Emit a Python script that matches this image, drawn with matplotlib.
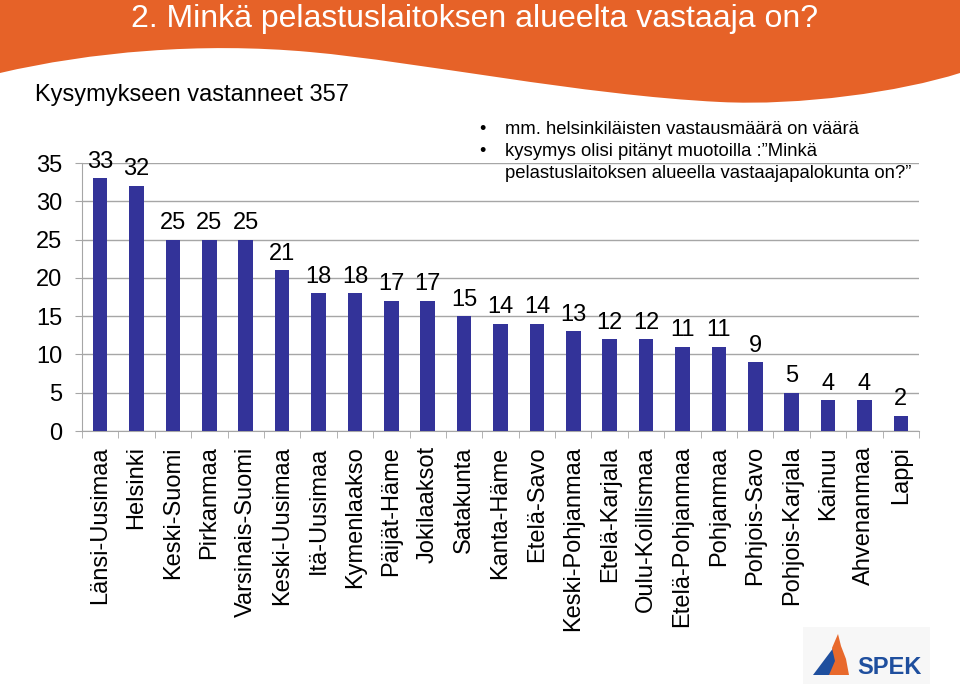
import numpy as np
import matplotlib
matplotlib.use('Agg')
import matplotlib.pyplot as plt
from matplotlib.patches import Polygon, PathPatch, Rectangle
from matplotlib.path import Path

# =============================================================================
# DATA
# =============================================================================

alueet = ['Länsi-Uusimaa', 'Helsinki', 'Keski-Suomi', 'Pirkanmaa', 'Varsinais-Suomi',
          'Keski-Uusimaa', 'Itä-Uusimaa', 'Kymenlaakso', 'Päijät-Häme', 'Jokilaaksot',
          'Satakunta', 'Kanta-Häme', 'Etelä-Savo', 'Keski-Pohjanmaa', 'Etelä-Karjala',
          'Oulu-Koillismaa', 'Etelä-Pohjanmaa', 'Pohjanmaa', 'Pohjois-Savo',
          'Pohjois-Karjala', 'Kainuu', 'Ahvenanmaa', 'Lappi']
vastaukset = [33, 32, 25, 25, 25, 21, 18, 18, 17, 17, 15, 14, 14, 13, 12, 12,
              11, 11, 9, 5, 4, 4, 2]
y_ticks = [0, 5, 10, 15, 20, 25, 30, 35]

otsikko = '2. Minkä pelastuslaitoksen alueelta vastaaja on?'
alaotsikko = 'Kysymykseen vastanneet 357'
huomiot = ['mm. helsinkiläisten vastausmäärä on väärä',
           'kysymys olisi pitänyt muotoilla :\u201dMinkä',
           'pelastuslaitoksen alueella vastaajapalokunta on?\u201d']

plt.rcParams['font.family'] = ['Liberation Sans', 'DejaVu Sans']

ORANSSI = '#E66228'
SININEN = '#333399'
HARMAA = '#A6A6A6'

# =============================================================================
# FIGURE + HEADER
# =============================================================================

fig = plt.figure(figsize=(9.6, 6.84), dpi=100)

bg = fig.add_axes([0, 0, 1, 1], zorder=0)
bg.set_xlim(0, 960)
bg.set_ylim(684, 0)
bg.axis('off')

# oranssi yläpalkki, aaltoileva alareuna
verts = [(0, 0), (0, 73),
         (90, 52), (200, 42), (310, 52),
         (420, 62), (580, 95), (720, 102),
         (800, 106), (900, 92), (960, 73),
         (960, 0), (0, 0)]
codes = [Path.MOVETO, Path.LINETO,
         Path.CURVE4, Path.CURVE4, Path.CURVE4,
         Path.CURVE4, Path.CURVE4, Path.CURVE4,
         Path.CURVE4, Path.CURVE4, Path.CURVE4,
         Path.LINETO, Path.CLOSEPOLY]
bg.add_patch(PathPatch(Path(verts, codes), facecolor=ORANSSI, edgecolor='none'))

bg.text(475, 19, otsikko, color='white', fontsize=23, ha='center', va='center')
bg.text(35, 95, alaotsikko, color='black', fontsize=17, ha='left', va='center')

# huomiot (bullet-lista)
for i, rivi in enumerate(huomiot):
    y = 130 + i * 22
    if i < 2:
        bg.text(482, y, '•', fontsize=13, ha='center', va='center')
    bg.text(505, y, rivi, fontsize=13.3, ha='left', va='center')

# SPEK-logo
bg.add_patch(Rectangle((803, 627), 127, 57, facecolor='#F7F7F7', edgecolor='none'))
bg.add_patch(Polygon([(813, 675), (834, 647), (843, 675)], closed=True,
                     facecolor='#1F4F9E', edgecolor='none'))
bg.add_patch(Polygon([(829, 675), (835, 661), (832, 648), (838, 634), (841, 646),
                      (846, 659), (849, 675)], closed=True,
                     facecolor='#E8692C', edgecolor='none'))
bg.text(857, 667, 'SPEK', color='#1F4F9E', fontsize=17, fontweight='bold',
        ha='left', va='center')

# =============================================================================
# BAR CHART
# =============================================================================

ax = fig.add_axes([82 / 960, 1 - 431 / 684, 837 / 960, 268 / 684], zorder=1)
ax.patch.set_alpha(0)

x = np.arange(len(alueet))
ax.bar(x, vastaukset, width=0.4, color=SININEN, zorder=3)

for xi, v in zip(x, vastaukset):
    ax.annotate(str(v), (xi, v), xytext=(0, 4), textcoords='offset points',
                ha='center', va='bottom', fontsize=17)

ax.set_xlim(-0.5, len(alueet) - 0.5)
ax.set_ylim(0, 35)
ax.set_yticks(y_ticks)
ax.yaxis.grid(True, color=HARMAA, linewidth=1)
ax.set_axisbelow(True)

ax.set_xticks(x)
ax.set_xticklabels(alueet, rotation=90, fontsize=17)
ax.set_xticks(np.arange(-0.5, len(alueet)), minor=True)
ax.tick_params(axis='x', which='major', length=0, pad=11)
ax.tick_params(axis='x', which='minor', length=5, color=HARMAA)
ax.tick_params(axis='y', length=5, color=HARMAA, pad=9, labelsize=17)

for s in ['top', 'right']:
    ax.spines[s].set_visible(False)
ax.spines['left'].set_color(HARMAA)
ax.spines['bottom'].set_color(HARMAA)

plt.savefig('out.png', dpi=100)
